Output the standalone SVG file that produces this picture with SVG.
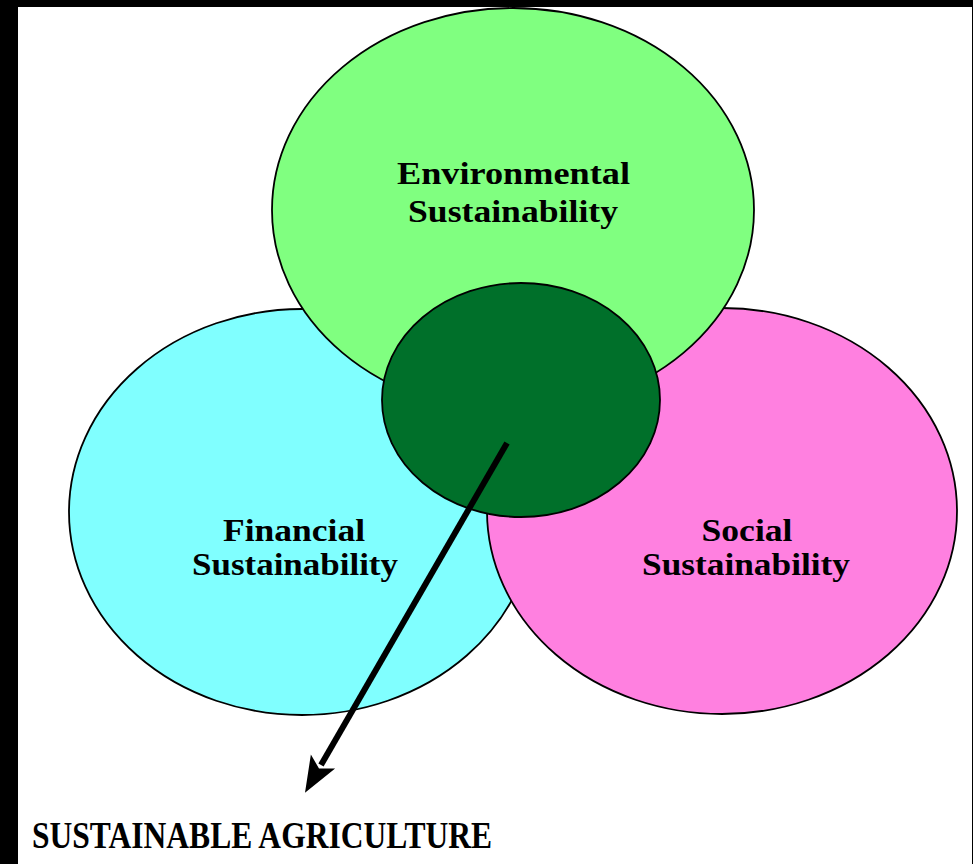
<svg xmlns="http://www.w3.org/2000/svg" width="973" height="864" viewBox="0 0 973 864">
  <style>
    .ring { stroke: #000; stroke-width: 1.8; }
    .lbl { font-family: "Liberation Serif", "Times New Roman", serif; font-weight: bold; font-size: 31px; fill: #000; }
    .title { font-family: "Liberation Serif", "Times New Roman", serif; font-weight: bold; font-size: 37px; fill: #000; }
  </style>
  <defs>
    <marker id="arrowhead" markerUnits="userSpaceOnUse" markerWidth="40" markerHeight="30" refX="0" refY="0" orient="auto" overflow="visible">
      <path d="M-4,-14 L32,0 L-4,14 L4,0 Z" fill="#000"/>
    </marker>
  </defs>
  <rect x="0" y="0" width="973" height="864" fill="#000"/>
  <rect x="18" y="7" width="954" height="857" fill="#fff"/>

  <g id="financial">
    <ellipse class="ring" cx="302" cy="512" rx="233" ry="203" fill="#80FFFF"/>
    <text class="lbl" x="294" y="541" text-anchor="middle" textLength="142" lengthAdjust="spacingAndGlyphs">Financial</text>
    <text class="lbl" x="295" y="575" text-anchor="middle" textLength="206" lengthAdjust="spacingAndGlyphs">Sustainability</text>
  </g>

  <g id="social">
    <ellipse class="ring" cx="722" cy="511" rx="235" ry="203" fill="#FF80E0"/>
    <text class="lbl" x="747" y="541" text-anchor="middle" textLength="91" lengthAdjust="spacingAndGlyphs">Social</text>
    <text class="lbl" x="746" y="575" text-anchor="middle" textLength="208" lengthAdjust="spacingAndGlyphs">Sustainability</text>
  </g>

  <g id="environmental">
    <ellipse class="ring" cx="513" cy="210" rx="241" ry="202" fill="#80FF80"/>
    <text class="lbl" x="513.5" y="184" text-anchor="middle" textLength="233" lengthAdjust="spacingAndGlyphs">Environmental</text>
    <text class="lbl" x="513" y="222" text-anchor="middle" textLength="210" lengthAdjust="spacingAndGlyphs">Sustainability</text>
  </g>

  <g id="core">
    <ellipse class="ring" cx="521" cy="400" rx="139" ry="117" fill="#00702A"/>
  </g>

  <g id="connectors">
    <line x1="507" y1="443" x2="321" y2="765" stroke="#000" stroke-width="6" marker-end="url(#arrowhead)"/>
  </g>

  <g id="sustainable-agriculture">
    <text class="title" x="32" y="848" textLength="460" lengthAdjust="spacingAndGlyphs">SUSTAINABLE AGRICULTURE</text>
  </g>
</svg>
